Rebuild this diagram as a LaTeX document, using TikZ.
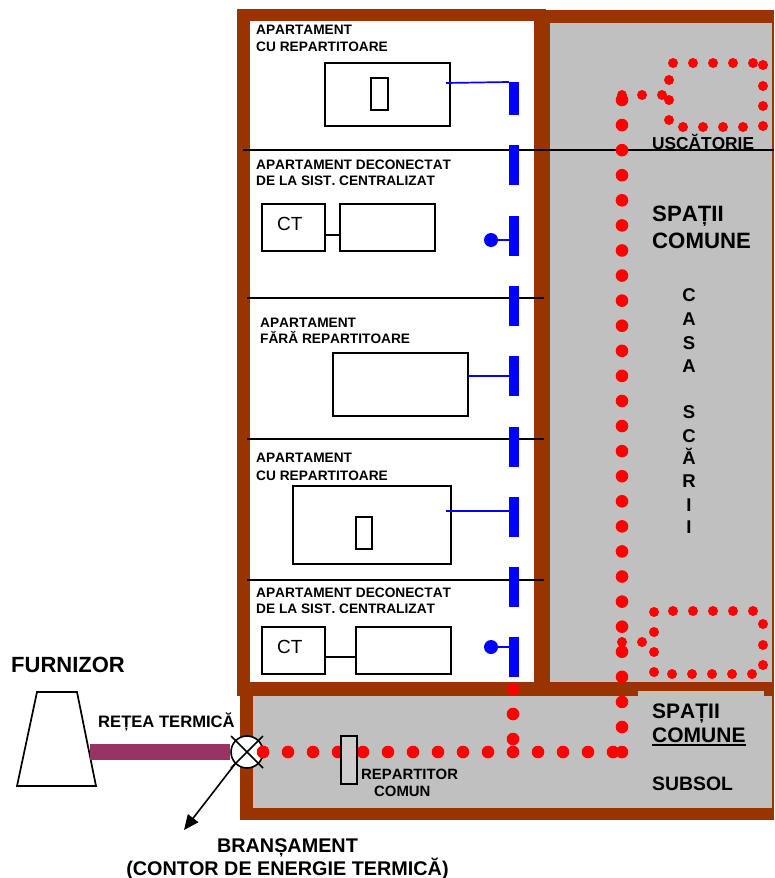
\documentclass[tikz,border=0pt]{standalone}
\usepackage{fontspec}
\usepackage{xcolor}
\setmainfont[Kerning=Off]{Liberation Sans}
\usetikzlibrary{
    shapes.geometric,
    arrows.meta,
    positioning
}
\definecolor{wallbrown}{HTML}{993300}
\definecolor{spacegray}{HTML}{C0C0C0}
\definecolor{netpurple}{HTML}{993366}

\begin{document}
\begin{tikzpicture}[
    x=1pt,
    y=-1pt,
    room/.style={
        rectangle,
        draw=black,
        line width=1.7pt,
        inner sep=0pt,
        outer sep=0pt,
        anchor=north west
    },
    bar/.style={
        rectangle,
        fill=blue,
        inner sep=0pt,
        minimum width=10pt,
        anchor=north
    },
    pipe/.style={blue, line width=1.7pt},
    wire/.style={black, line width=1.6pt},
    floorline/.style={black, line width=1.4pt},
    bluedot/.style={circle, fill=blue, inner sep=0pt, minimum size=14pt},
    reddot/.style={circle, fill=red, inner sep=0pt, minimum size=12.6pt},
    smalldot/.style={circle, fill=red, inner sep=0pt, minimum size=10pt},
    label/.style={anchor=base west, inner sep=0pt, font=\bfseries\fontsize{13.7}{15}\selectfont},
    big/.style={anchor=base west, inner sep=0pt, font=\bfseries\fontsize{22.2}{24}\selectfont},
    mid/.style={anchor=base west, inner sep=0pt, font=\bfseries\fontsize{21}{23}\selectfont},
    letter/.style={anchor=base, inner sep=0pt, font=\bfseries\fontsize{18.5}{20}\selectfont},
    ctlabel/.style={anchor=base west, inner sep=0pt, font=\fontsize{19}{22}\selectfont}
]
\useasboundingbox (0,0) rectangle (774,878);

% Spaces
\fill[white] (0,0) rectangle (774,878);
\fill[spacegray] (550,23) rectangle (772,683);
\fill[spacegray] (253,696) rectangle (772,808);

% Walls
\fill[wallbrown] (237,9) rectangle (546,21);
\fill[wallbrown] (534,10) rectangle (774,23);
\fill[wallbrown] (237,9) rectangle (250,693);
\fill[wallbrown] (534,10) rectangle (550,696);
\fill[wallbrown] (772,10) rectangle (774,820);
\fill[wallbrown] (237,682) rectangle (774,696);
\fill[wallbrown] (240,693) rectangle (253,820);
\fill[wallbrown] (240,808) rectangle (774,820);
\fill[spacegray] (638,691) rectangle (764,696);

% Floors
\draw[floorline] (243,150) -- (774,150);
\draw[floorline] (247,298) -- (544,298);
\draw[floorline] (247,439) -- (544,439);
\draw[floorline] (247,580) -- (544,580);

% Riser
\node[bar, minimum height=33pt] (bar1) at (514,82) {};
\node[bar, minimum height=40pt] (bar2) at (514,145) {};
\node[bar, minimum height=40pt] (bar3) at (514,216) {};
\node[bar, minimum height=40pt] (bar4) at (514,286) {};
\node[bar, minimum height=40pt] (bar5) at (514,356) {};
\node[bar, minimum height=40pt] (bar6) at (514,427) {};
\node[bar, minimum height=40pt] (bar7) at (514,497) {};
\node[bar, minimum height=40pt] (bar8) at (514,567) {};
\node[bar, minimum height=40pt] (bar9) at (514,637) {};

% Apartment 1
\node[label] (ap1a) at (256,34) {APARTAMENT};
\node[label] (ap1b) at (256,51) {CU REPARTITOARE};
\node[room, minimum width=125pt, minimum height=63pt] (rad1) at (325,63) {};
\node[room, minimum width=17pt, minimum height=32pt] (rep1) at (371,78) {};
\coordinate (tap1) at (446,83);
\draw[pipe] (tap1) -- (bar1.north west);

% Apartment 2
\node[label] (ap2a) at (256,169) {APARTAMENT DECONECTAT};
\node[label] (ap2b) at (256,185) {DE LA SIST. CENTRALIZAT};
\node[room, minimum width=63pt, minimum height=47pt] (ct1) at (262,204) {};
\node[room, minimum width=95pt, minimum height=47pt] (rad2) at (340,204) {};
\node[ctlabel] (ct1t) at (277,230) {CT};
\draw[wire] (ct1.east |- 0,235) -- (rad2.west |- 0,235);
\node[bluedot] (cap1) at (491,240) {};
\draw[pipe] (cap1) -- (bar3.west |- cap1);

% Apartment 3
\node[label] (ap3a) at (260,327) {APARTAMENT};
\node[label] (ap3b) at (260,343) {FĂRĂ REPARTITOARE};
\node[room, minimum width=135pt, minimum height=63pt] (rad3) at (333,353) {};
\draw[pipe] (rad3.east |- 0,376) -- (bar5.west |- 0,376);

% Apartment 4
\node[label] (ap4a) at (256,462) {APARTAMENT};
\node[label] (ap4b) at (256,480) {CU REPARTITOARE};
\node[room, minimum width=158pt, minimum height=78pt] (rad4) at (293,486) {};
\node[room, minimum width=16pt, minimum height=32pt] (rep4) at (356,517) {};
\coordinate (tap4) at (446,511);
\draw[pipe] (tap4) -- (bar7.west |- tap4);

% Apartment 5
\node[label] (ap5a) at (256,597) {APARTAMENT DECONECTAT};
\node[label] (ap5b) at (256,613) {DE LA SIST. CENTRALIZAT};
\node[room, minimum width=63pt, minimum height=47pt] (ct2) at (262,627) {};
\node[room, minimum width=95pt, minimum height=47pt] (rad5) at (356,627) {};
\node[ctlabel] (ct2t) at (277,653) {CT};
\draw[wire] (ct2.east |- 0,657) -- (rad5.west |- 0,657);
\node[bluedot] (cap2) at (491,647) {};
\draw[pipe] (cap2) -- (bar9.west |- cap2);

% Common spaces
\node[font=\bfseries\fontsize{17.3}{19}\selectfont, anchor=base west, inner sep=0pt] (usc) at (652,149) {USCĂTORIE};
\node[big] (sp1) at (652,221) {SPAȚII};
\node[big] (com1) at (652,248) {COMUNE};
\node[letter] (l1) at (689,301) {C};
\node[letter] (l2) at (689,325) {A};
\node[letter] (l3) at (689,349) {S};
\node[letter] (l4) at (689,372) {A};
\node[letter] (l5) at (689,418) {S};
\node[letter] (l6) at (689,442) {C};
\node[letter] (l7) at (689,464) {Ă};
\node[letter] (l8) at (689,487) {R};
\node[letter] (l9) at (689,511) {I};
\node[letter] (l10) at (689,533) {I};
\node[mid] (sp2) at (652,718) {SPAȚII};
\node[mid] (com2) at (652,742) {COMUNE};
\draw[black, line width=1.7pt] (652,745) -- (746,745);
\node[mid, font=\bfseries\fontsize{19.4}{21}\selectfont] (sub) at (652,790) {SUBSOL};

% Main pipe
\foreach \k in {0,...,26}
    \node[reddot] (up\k) at (622,{100+25.08*\k}) {};
\foreach \k in {0,...,14}
    \node[reddot] (run\k) at ({263+25*\k},752) {};
\foreach \y [count=\k] in {689,714,739}
    \node[reddot] (ris\k) at (513,\y) {};

% Drying room loop
\foreach \x/\y [count=\k] in {622/95,642/95,662/95,669/100,669/80,673/63,693/63,713/63,733/63,753/63,763/65,763/86,763/106,763/126,743/127,723/127,703/127,683/127,669/120}
    \node[smalldot] (dry\k) at (\x,\y) {};

% Lower loop
\foreach \x/\y [count=\k] in {622/642,642/642,654/612,673/611,693/611,713/611,733/611,753/611,763/624,763/645,763/665,752/674,732/674,712/674,692/674,672/674,654/672,654/652,654/632}
    \node[smalldot] (low\k) at (\x,\y) {};

% Common meter
\node[room, fill=spacegray!80!white, minimum width=16pt, minimum height=48pt] (repc) at (341,736) {};
\node[label, font=\bfseries\fontsize{14.9}{16}\selectfont] (repa) at (361,779) {REPARTITOR};
\node[label, font=\bfseries\fontsize{14.9}{16}\selectfont] (repb) at (374,796) {COMUN};

% Supplier
\node[font=\bfseries\fontsize{22}{24}\selectfont, anchor=base west, inner sep=0pt] (furn) at (11,672) {FURNIZOR};
\filldraw[fill=white, draw=black, line width=1.7pt] (37,692) -- (77,692) -- (96,786) -- (17,786) -- cycle;
\node[font=\bfseries\fontsize{16.6}{18}\selectfont, anchor=base west, inner sep=0pt] (retea) at (98,727) {REȚEA TERMICĂ};

% Meter
\node[circle, draw=black, fill=white, line width=1.6pt, inner sep=0pt, minimum size=32pt] (meter) at (247,752) {};
\coordinate (net) at (90,752);
\draw[netpurple, line width=15.5pt] (net) -- (meter.west);
\draw[wire] (231,736) -- (263,768);
\draw[wire] (263,736) -- (231,768);
\node[reddot] (run0b) at (263,752) {};
\coordinate (bra) at (184,830);
\draw[-{Triangle[length=15pt,width=13pt]}, line width=1.6pt] (meter.225) -- (bra);
\node[font=\bfseries\fontsize{19.8}{22}\selectfont, anchor=base, inner sep=0pt] (bran) at (287.5,852) {BRANȘAMENT};
\node[font=\bfseries\fontsize{19.8}{22}\selectfont, anchor=base, inner sep=0pt] (cont) at (287.5,875) {(CONTOR DE ENERGIE TERMICĂ)};

\end{tikzpicture}
\end{document}
